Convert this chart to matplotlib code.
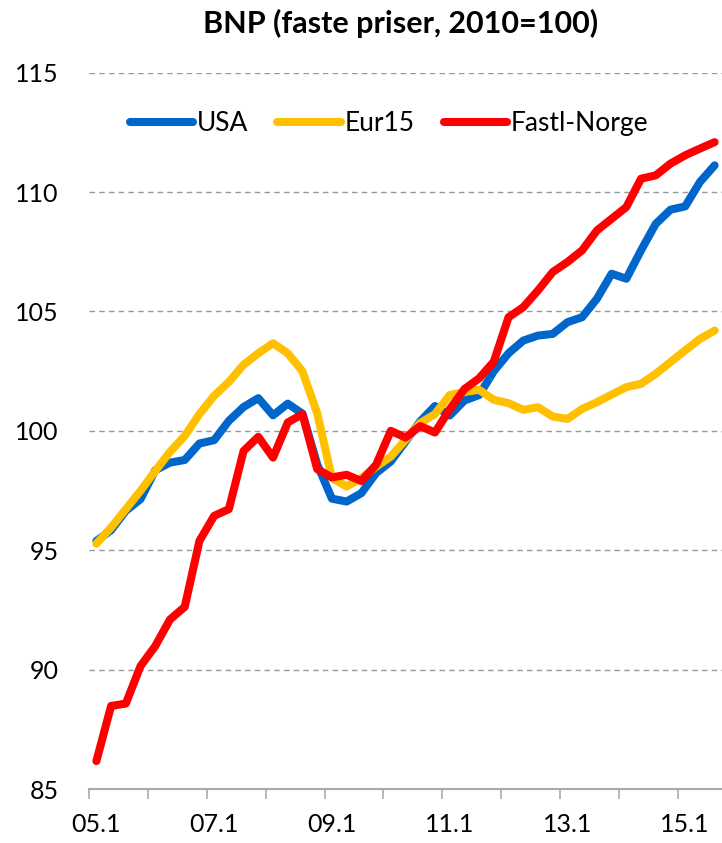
import matplotlib.pyplot as plt
import numpy as np

plt.rcParams['font.family'] = ['Lato', 'DejaVu Sans']

# quarterly index, 2005Q1 - 2015Q3
quarters = [f"{y % 100:02d}.{q}" for y in range(2005, 2016) for q in range(1, 5)][:43]

usa = [95.39, 95.84, 96.65, 97.14, 98.35, 98.67, 98.78, 99.47, 99.61, 100.42,
       101.0, 101.37, 100.65, 101.14, 100.72, 98.6, 97.16, 97.04, 97.39, 98.23,
       98.72, 99.55, 100.4, 101.04, 100.64, 101.27, 101.5, 102.5, 103.25, 103.78,
       103.99, 104.06, 104.55, 104.76, 105.53, 106.58, 106.37, 107.56, 108.67, 109.26,
       109.4, 110.42, 111.12]

eur15 = [95.28, 95.95, 96.72, 97.49, 98.32, 99.12, 99.79, 100.7, 101.47, 102.05,
         102.77, 103.25, 103.67, 103.25, 102.49, 100.74, 98.02, 97.67, 98.02, 98.5,
         98.92, 99.62, 100.33, 100.7, 101.5, 101.63, 101.72, 101.3, 101.16, 100.88,
         100.99, 100.6, 100.5, 100.92, 101.2, 101.52, 101.83, 101.97, 102.39, 102.88,
         103.37, 103.85, 104.2]

norge = [86.17, 88.48, 88.58, 90.15, 90.99, 92.1, 92.63, 95.39, 96.44, 96.72,
         99.16, 99.75, 98.88, 100.35, 100.7, 98.4, 98.05, 98.16, 97.9, 98.58,
         100.0, 99.72, 100.2, 99.93, 100.9, 101.75, 102.2, 102.9, 104.76, 105.18,
         105.88, 106.65, 107.07, 107.56, 108.39, 108.88, 109.37, 110.56, 110.7, 111.19,
         111.54, 111.82, 112.09]

x = np.arange(len(quarters))

fig = plt.figure(figsize=(7.22, 8.43), dpi=100)
ax = fig.add_axes([0.1233, 0.064, 0.8767, 0.8498])

ax.plot(x, usa, color='#0066CC', lw=5.8, label='USA', solid_capstyle='round', zorder=3)
ax.plot(x, eur15, color='#FFC000', lw=5.8, label='Eur15', solid_capstyle='round', zorder=4)
ax.plot(x, norge, color='#FF0000', lw=5.8, label='Fastl-Norge', solid_capstyle='round', zorder=5)

ax.set_xlim(-0.5, len(quarters) - 0.5)
ax.set_ylim(85, 115)
ax.set_yticks(np.arange(85, 116, 5))
ax.tick_params(axis='y', length=0, pad=22, labelsize=18)
for yv in range(90, 116, 5):
    ax.axhline(yv, color='#999999', lw=1.0, ls=(0, (4, 3)), zorder=1)

# year tick marks on category boundaries, labels every second year
ax.set_xticks(np.arange(-0.5, len(quarters), 4))
ax.set_xticklabels([])
ax.set_xticks(x[::8], minor=True)
ax.set_xticklabels([quarters[i] for i in x[::8]], minor=True)
ax.tick_params(axis='x', which='major', length=7, width=1.2, color='#AAAAAA', direction='out')
ax.tick_params(axis='x', which='minor', length=0, pad=17, labelsize=18)

for s in ['top', 'right', 'left']:
    ax.spines[s].set_visible(False)
ax.spines['bottom'].set_color('#AAAAAA')
ax.spines['bottom'].set_linewidth(1.5)

fig.text(0.555, 0.972, 'BNP (faste priser, 2010=100)', ha='center', va='center',
         fontsize=22, fontweight='bold')

ax.legend(loc='upper center', bbox_to_anchor=(0.474, 0.98), ncol=3, frameon=False,
          fontsize=19, handlelength=2.4, handletextpad=0.15, columnspacing=1.1)

fig.savefig('out.png', dpi=100)
